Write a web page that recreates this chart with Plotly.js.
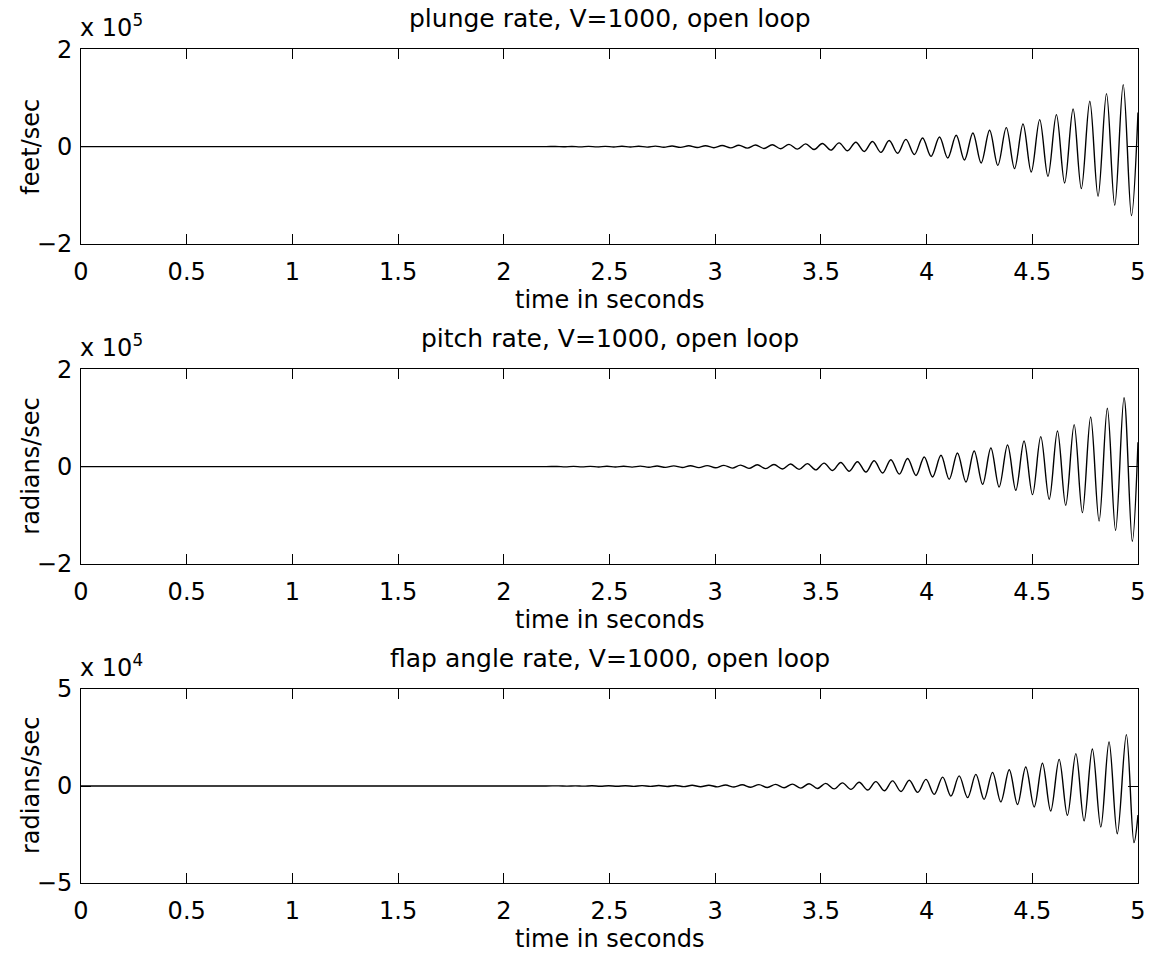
<!DOCTYPE html>
<html>
<head>
<meta charset="utf-8">
<script src="https://cdn.plot.ly/plotly-3.0.1.min.js"></script>
<style>html,body{margin:0;padding:0;background:#fff;}#chart{width:1152px;height:955px;}</style>
</head>
<body>
<div id="chart"></div>
<script>
// ---- data ----
// time ticks
const timeTicks = [0, 0.5, 1, 1.5, 2, 2.5, 3, 3.5, 4, 4.5, 5];
const timeTickLabels = ['0', '0.5', '1', '1.5', '2', '2.5', '3', '3.5', '4', '4.5', '5'];

// plunge rate (units of 1e5 feet/sec): extremum times and values
const plungeT = [0, 1.0, 2.0, 2.2,
  2.243, 2.283, 2.322, 2.362, 2.401, 2.441, 2.480, 2.520, 2.559, 2.599,
  2.638, 2.678, 2.717, 2.757, 2.796, 2.836, 2.875, 2.915, 2.954, 2.994,
  3.033, 3.073, 3.112, 3.152, 3.191, 3.231, 3.270, 3.310, 3.349, 3.389,
  3.428, 3.468, 3.507, 3.547, 3.586, 3.626, 3.665, 3.705, 3.744, 3.784,
  3.823, 3.863, 3.902, 3.942, 3.981,
  4.021, 4.061, 4.100, 4.140, 4.179, 4.219, 4.258, 4.298, 4.337, 4.377,
  4.416, 4.456, 4.495, 4.535, 4.574, 4.614, 4.653, 4.693, 4.732, 4.772,
  4.811, 4.851, 4.890, 4.930, 4.969, 5.0];
const plungeV = [0, 0, 0, 0,
  0.003, -0.003, 0.004, -0.004, 0.005, -0.005, 0.006, -0.006, 0.007, -0.008,
  0.009, -0.010, 0.011, -0.012, 0.013, -0.015, 0.017, -0.018, 0.020, -0.022,
  0.024, -0.026, 0.029, -0.031, 0.034, -0.037, 0.040, -0.043, 0.047, -0.051,
  0.056, -0.060, 0.065, -0.071, 0.077, -0.084, 0.091, -0.099, 0.107, -0.117,
  0.127, -0.137, 0.149, -0.162, 0.178,
  -0.199, 0.199, -0.233, 0.233, -0.274, 0.281, -0.336, 0.336, -0.384, 0.390,
  -0.452, 0.466, -0.521, 0.555, -0.610, 0.658, -0.747, 0.774, -0.863, 0.932,
  -1.021, 1.089, -1.205, 1.274, -1.418, 0.7];

// pitch rate (units of 1e5 radians/sec)
const pitchT = [0, 1.0, 2.0, 2.2,
  2.251, 2.291, 2.330, 2.370, 2.409, 2.449, 2.488, 2.528, 2.567, 2.607,
  2.646, 2.686, 2.725, 2.765, 2.804, 2.844, 2.883, 2.923, 2.962, 3.002,
  3.041, 3.081, 3.120, 3.160, 3.199, 3.239, 3.278, 3.318, 3.357, 3.397,
  3.436, 3.476, 3.515, 3.555, 3.594, 3.634, 3.673, 3.713, 3.752, 3.792,
  3.831, 3.871, 3.910, 3.950, 3.989,
  4.028, 4.068, 4.107, 4.146, 4.186, 4.225, 4.265, 4.304, 4.343, 4.383,
  4.422, 4.461, 4.501, 4.540, 4.580, 4.619, 4.658, 4.698, 4.737, 4.776,
  4.816, 4.855, 4.894, 4.934, 4.973, 5.0];
const pitchV = [0, 0, 0, 0,
  0.004, -0.004, 0.005, -0.005, 0.006, -0.006, 0.007, -0.007, 0.008, -0.009,
  0.010, -0.011, 0.012, -0.014, 0.015, -0.017, 0.019, -0.020, 0.022, -0.024,
  0.027, -0.030, 0.032, -0.035, 0.038, -0.041, 0.045, -0.048, 0.053, -0.057,
  0.062, -0.067, 0.073, -0.080, 0.086, -0.094, 0.102, -0.111, 0.120, -0.131,
  0.142, -0.153, 0.167, -0.181, 0.199,
  -0.212, 0.233, -0.260, 0.281, -0.315, 0.322, -0.363, 0.384, -0.418, 0.445,
  -0.486, 0.527, -0.575, 0.616, -0.671, 0.733, -0.795, 0.863, -0.945, 1.021,
  -1.116, 1.199, -1.308, 1.418, -1.534, 0.5];

// flap angle rate (units of 1e4 radians/sec)
const flapT = [0, 1.0, 2.0, 2.2,
  2.259, 2.299, 2.338, 2.378, 2.417, 2.457, 2.496, 2.536, 2.575, 2.615,
  2.654, 2.694, 2.733, 2.773, 2.812, 2.852, 2.891, 2.931, 2.970, 3.010,
  3.049, 3.089, 3.128, 3.168, 3.207, 3.247, 3.286, 3.326, 3.365, 3.405,
  3.444, 3.484, 3.523, 3.563, 3.602, 3.642, 3.681, 3.721, 3.760, 3.800,
  3.839, 3.879, 3.918, 3.958, 3.997,
  4.036, 4.076, 4.115, 4.154, 4.194, 4.233, 4.272, 4.312, 4.351, 4.391,
  4.430, 4.469, 4.509, 4.548, 4.587, 4.627, 4.666, 4.706, 4.745, 4.784,
  4.824, 4.863, 4.902, 4.945, 4.981, 5.0];
const flapV = [0, 0, 0, 0,
  0.007, -0.008, 0.009, -0.009, 0.011, -0.011, 0.013, -0.013, 0.015, -0.017,
  0.019, -0.021, 0.023, -0.025, 0.028, -0.031, 0.035, -0.038, 0.042, -0.046,
  0.050, -0.055, 0.061, -0.065, 0.071, -0.078, 0.084, -0.090, 0.099, -0.107,
  0.118, -0.126, 0.137, -0.149, 0.162, -0.176, 0.191, -0.208, 0.225, -0.246,
  0.262, -0.285, 0.300, -0.330, 0.340,
  -0.43, 0.46, -0.52, 0.52, -0.60, 0.60, -0.69, 0.70, -0.82, 0.84,
  -0.95, 0.98, -1.08, 1.17, -1.29, 1.37, -1.51, 1.67, -1.80, 1.91,
  -2.11, 2.27, -2.46, 2.65, -2.92, -1.5];

const rateTicks = [-2, 0, 2];
const rateTickLabels = ['\u22122', '0', '2'];
const flapTicks = [-5, 0, 5];
const flapTickLabels = ['\u22125', '0', '5'];

const panelTitles = ['plunge rate, V=1000, open loop', 'pitch rate, V=1000, open loop', 'flap angle rate, V=1000, open loop'];
const yLabels = ['feet/sec', 'radians/sec', 'radians/sec'];
const exponents = ['5', '5', '4'];
const xLabel = 'time in seconds';

// ---- layout helpers (pixel geometry of the reference) ----
const W = 1152, H = 955;
const FONT = 'DejaVu Sans, Liberation Sans, Arial, sans-serif';
const FS = 24;
const px = x => x / W;
const py = y => 1 - y / H;
const panels = [{top: 49.3, bottom: 244}, {top: 369.3, bottom: 564}, {top: 689, bottom: 883}];

const lineStyle = {color: '#000', width: 1.4, shape: 'spline', smoothing: 1};
const traces = [
  {x: plungeT, y: plungeV, xaxis: 'x', yaxis: 'y', type: 'scatter', mode: 'lines', line: lineStyle, hoverinfo: 'skip'},
  {x: pitchT, y: pitchV, xaxis: 'x2', yaxis: 'y2', type: 'scatter', mode: 'lines', line: lineStyle, hoverinfo: 'skip'},
  {x: flapT, y: flapV, xaxis: 'x3', yaxis: 'y3', type: 'scatter', mode: 'lines', line: lineStyle, hoverinfo: 'skip'}
];

function xAxis(anchor) {
  return {
    domain: [px(81), px(1138)], anchor: anchor, range: [0, 5],
    tickmode: 'array', tickvals: timeTicks, ticktext: timeTickLabels,
    ticks: 'inside', ticklen: 10, tickwidth: 1, tickcolor: '#000',
    showline: true, linecolor: '#000', linewidth: 1, mirror: 'ticks',
    showgrid: false, zeroline: false, automargin: false,
    ticklabelstandoff: 6,
    tickfont: {family: FONT, size: FS, color: '#000'}
  };
}
function yAxis(anchor, p, range, tv, tt) {
  return {
    domain: [py(p.bottom), py(p.top)], anchor: anchor, range: range,
    tickmode: 'array', tickvals: tv, ticktext: tt,
    ticks: 'inside', ticklen: 10, tickwidth: 1, tickcolor: '#000',
    showline: true, linecolor: '#000', linewidth: 1, mirror: 'ticks',
    showgrid: false, zeroline: false, automargin: false,
    ticklabelstandoff: 3,
    tickfont: {family: FONT, size: FS, color: '#000'}
  };
}

const annotations = [];
panels.forEach((p, i) => {
  const f = {family: FONT, size: FS, color: '#000'};
  annotations.push({text: panelTitles[i], xref: 'paper', yref: 'paper', x: px(609.5), y: py(p.top - 31),
    xanchor: 'center', yanchor: 'middle', showarrow: false, font: {family: FONT, size: 25, color: '#000'}});
  annotations.push({text: xLabel, xref: 'paper', yref: 'paper', x: px(609.5), y: py(p.bottom + 56),
    xanchor: 'center', yanchor: 'middle', showarrow: false, font: f});
  annotations.push({text: yLabels[i], xref: 'paper', yref: 'paper', x: px(31), y: py((p.top + p.bottom) / 2),
    xanchor: 'center', yanchor: 'middle', textangle: -90, showarrow: false, font: f});
  annotations.push({text: 'x 10<sup>' + exponents[i] + '</sup>', xref: 'paper', yref: 'paper', x: px(78), y: py(p.top - 5),
    xanchor: 'left', yanchor: 'bottom', showarrow: false, font: f});
});

const layout = {
  width: W, height: H,
  margin: {l: 0, r: 0, t: 0, b: 0},
  paper_bgcolor: '#fff', plot_bgcolor: '#fff',
  showlegend: false,
  xaxis: xAxis('y'), xaxis2: xAxis('y2'), xaxis3: xAxis('y3'),
  yaxis: yAxis('x', panels[0], [-2, 2], rateTicks, rateTickLabels),
  yaxis2: yAxis('x2', panels[1], [-2, 2], rateTicks, rateTickLabels),
  yaxis3: yAxis('x3', panels[2], [-5, 5], flapTicks, flapTickLabels),
  annotations: annotations
};

Plotly.newPlot('chart', traces, layout, {staticPlot: true, displayModeBar: false});
</script>
</body>
</html>
